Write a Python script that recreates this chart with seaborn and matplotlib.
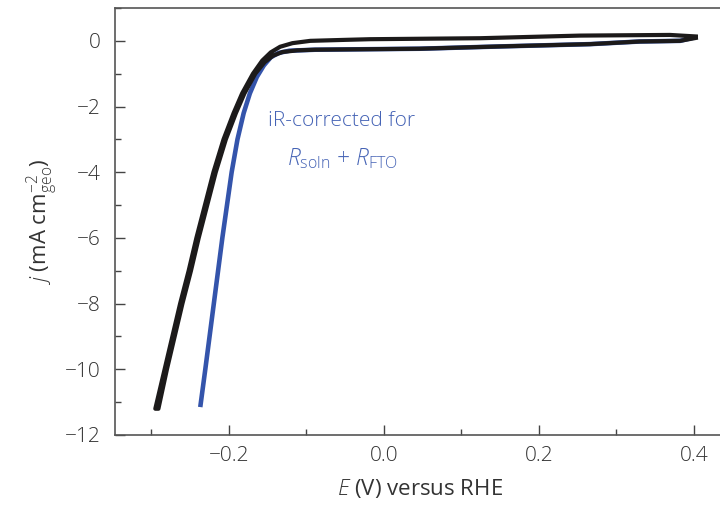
import numpy as np
import pandas as pd
import matplotlib
matplotlib.use("Agg")
import matplotlib.pyplot as plt
import seaborn as sns
from matplotlib.ticker import MultipleLocator

# ---- data ----
# black CV loop: upper branch from the anodic tip down to the cathodic end, then back along the lower branch
black_E = [0.405, 0.369, 0.253, 0.124, -0.018, -0.050, -0.095, -0.118, -0.134, -0.146, -0.157,
           -0.169, -0.183, -0.194, -0.207, -0.220, -0.231, -0.242, -0.252, -0.263, -0.273, -0.283, -0.295,
           -0.291, -0.280, -0.270, -0.260, -0.249, -0.239, -0.228, -0.217, -0.204, -0.191,
           -0.180, -0.166, -0.154, -0.143, -0.131, -0.112, -0.089, 0.046, 0.150, 0.266, 0.330, 0.382, 0.405]
black_j = [0.13, 0.18, 0.16, 0.08, 0.05, 0.03, 0.0, -0.07, -0.18, -0.35, -0.6,
           -1.0, -1.6, -2.2, -3.0, -4.0, -5.0, -6.0, -7.0, -8.0, -9.0, -10.0, -11.2,
           -11.2, -10.0, -9.0, -8.0, -7.0, -6.0, -5.0, -4.0, -3.0, -2.2,
           -1.6, -1.0, -0.65, -0.45, -0.34, -0.29, -0.27, -0.24, -0.17, -0.10, -0.02, 0.0, 0.10]

# blue: iR-corrected for R_soln + R_FTO
blue_E = [-0.237, -0.2305, -0.225, -0.2195, -0.214, -0.2085, -0.2025, -0.1965, -0.189, -0.181,
          -0.173, -0.164, -0.155, -0.146, -0.136, -0.122, -0.089, 0.046, 0.150, 0.266, 0.330, 0.382, 0.400]
blue_j = [-11.15, -10.0, -9.0, -8.0, -7.0, -6.0, -5.0, -4.0, -3.0, -2.2,
          -1.6, -1.1, -0.75, -0.5, -0.37, -0.3, -0.27, -0.24, -0.17, -0.10, -0.02, 0.0, 0.10]

x_ticks = [-0.2, 0.0, 0.2, 0.4]
y_ticks = [0, -2, -4, -6, -8, -10, -12]

sns.set_style("ticks")
plt.rcParams['font.family'] = ['Open Sans', 'DejaVu Sans']
plt.rcParams['font.weight'] = 'light'
plt.rcParams['mathtext.fontset'] = 'custom'
plt.rcParams['mathtext.rm'] = 'Open Sans:light'
plt.rcParams['mathtext.it'] = 'Open Sans:italic:light'
plt.rcParams['mathtext.bf'] = 'Open Sans:bold'

black_df = pd.DataFrame({"E": black_E, "j": black_j})
blue_df = pd.DataFrame({"E": blue_E, "j": blue_j})

fig = plt.figure(figsize=(7.2, 5.05), dpi=100)
ax = fig.add_axes([115/720, 70/505, 610/720, 427/505])

lw = 3.0
sns.lineplot(data=blue_df, x="E", y="j", sort=False, estimator=None, ax=ax,
             color="#3454ab", lw=3.3, solid_capstyle="butt", solid_joinstyle="round")
sns.lineplot(data=black_df, x="E", y="j", sort=False, estimator=None, ax=ax,
             color="#1c1a1a", lw=lw, solid_capstyle="butt", solid_joinstyle="round")

ax.set_xlim(-0.347, 0.440)
ax.set_ylim(-12, 1.0)
ax.set_xticks(x_ticks)
ax.set_xticklabels(["\u22120.2", "0.0", "0.2", "0.4"])
ax.set_yticks(y_ticks)
ax.set_yticklabels(["0", "\u22122", "\u22124", "\u22126", "\u22128", "\u221210", "\u221212"])
ax.xaxis.set_minor_locator(MultipleLocator(0.1))
ax.yaxis.set_minor_locator(MultipleLocator(1))

ax.tick_params(which="both", direction="in", color="#444444", width=1.0,
               labelsize=15, labelcolor="#333333")
ax.tick_params(which="major", length=7, pad=8)
ax.tick_params(which="minor", length=4)
ax.tick_params(axis="y", pad=10)
for side in ["left", "bottom", "top", "right"]:
    ax.spines[side].set_color("#555555")
    ax.spines[side].set_linewidth(1.2)

ax.set_xlabel("$E$ (V) versus RHE", fontsize=16, color="#333333", labelpad=8)
ax.set_ylabel("$j$ (mA cm$^{-2}_{\\mathrm{geo}}$)", fontsize=16, color="#333333", labelpad=4)

ax.text(0.372, 0.735, "iR-corrected for", transform=ax.transAxes, ha="center", va="center",
        fontsize=15, color="#4563b5", fontweight="light")
ax.text(0.372, 0.647, "$R_{\\mathrm{soln}}$ + $R_{\\mathrm{FTO}}$", transform=ax.transAxes,
        ha="center", va="center", fontsize=16.5, color="#4563b5")

fig.savefig("out.png", dpi=100)
